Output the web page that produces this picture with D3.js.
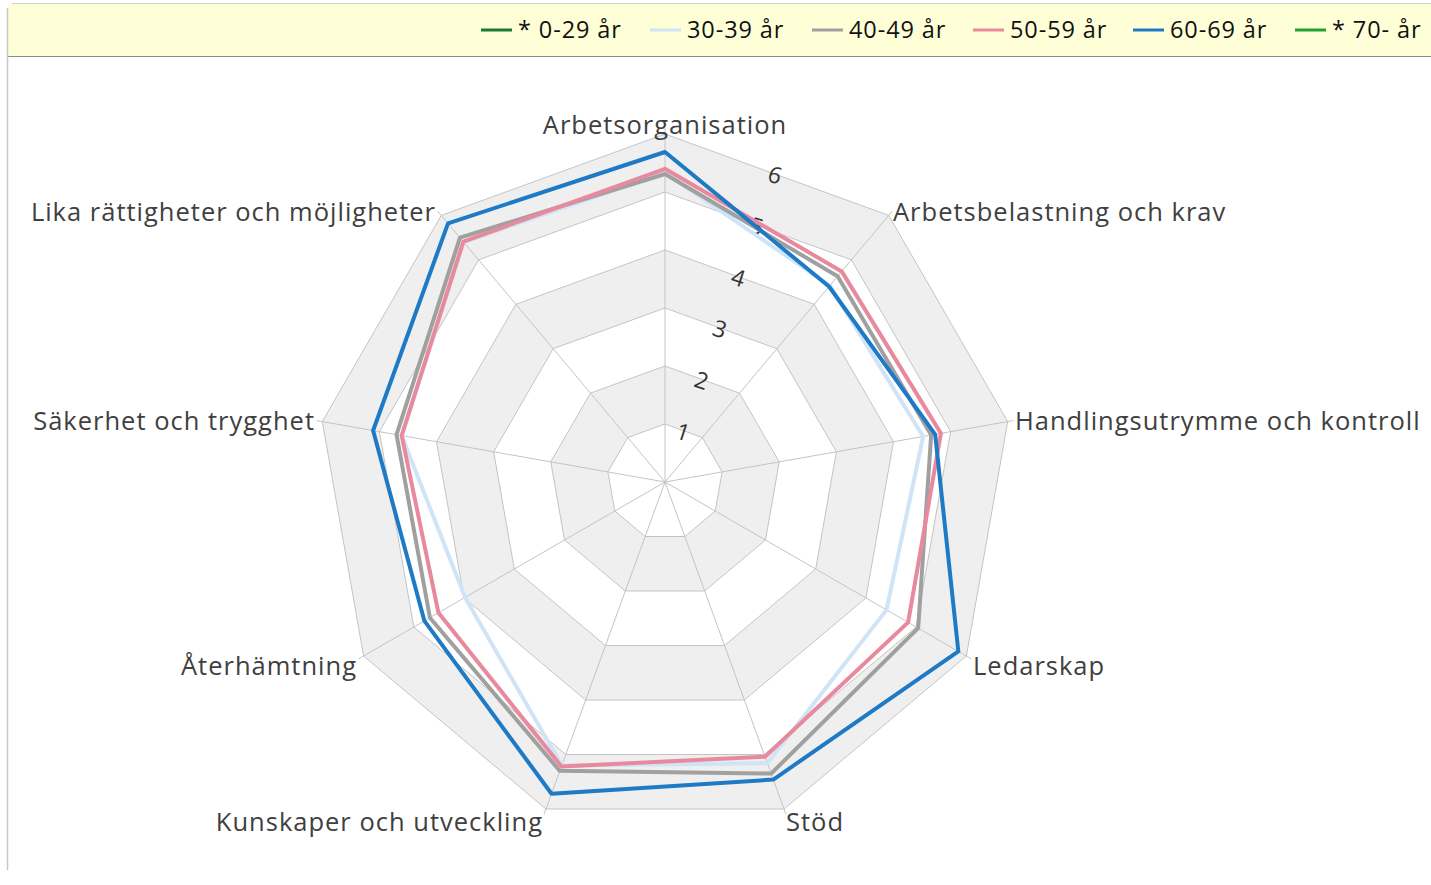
<!DOCTYPE html>
<html>
<head>
<meta charset="UTF-8">
<script src="https://d3js.org/d3.v7.min.js"></script>
<style>
  body { margin: 0; background: #ffffff; }
  text { font-family: "Open Sans", "Noto Sans", sans-serif; }
</style>
</head>
<body>
<svg id="chart" width="1431" height="885"></svg>
<script>
// axes, clockwise from the top
var axes = ["Arbetsorganisation", "Arbetsbelastning och krav", "Handlingsutrymme och kontroll",
  "Ledarskap", "Stöd", "Kunskaper och utveckling", "Återhämtning",
  "Säkerhet och trygghet", "Lika rättigheter och möjligheter"];
var seriesNames = ["* 0-29 år", "30-39 år", "40-49 år", "50-59 år", "60-69 år", "* 70- år"];
var seriesColors = ["#1b7a35", "#cfe4f6", "#a0a0a0", "#e8899e", "#1f7ac6", "#22a22c"];
// the two starred groups have no data shown
var v0_29 = null;
var v30_39 = [5.33, 4.42, 4.52, 4.41, 5.16, 5.20, 3.98, 4.61, 5.40];
var v40_49 = [5.31, 4.63, 4.66, 5.04, 5.35, 5.30, 4.68, 4.70, 5.50];
var v50_59 = [5.40, 4.74, 4.83, 4.84, 5.04, 5.22, 4.51, 4.61, 5.41];
var v60_69 = [5.69, 4.40, 4.73, 5.84, 5.46, 5.72, 4.79, 5.11, 5.82];
var v70 = null;
var seriesValues = [v0_29, v30_39, v40_49, v50_59, v60_69, v70];
var tickValues = [1, 2, 3, 4, 5, 6];

var cx = 665, cy = 482, R = 348;
var svg = d3.select("#chart");

var r = d3.scaleLinear().domain([0, 6]).range([0, R]);
var angle = d3.scaleLinear().domain([0, axes.length]).range([0, 2 * Math.PI]);

function pt(i, v) {
  var a = angle(i);
  return [cx + r(v) * Math.sin(a), cy - r(v) * Math.cos(a)];
}
function ring(v) {
  return axes.map(function(d, i) { return pt(i, v); });
}

// legend band
svg.append("path")
  .attr("d", "M7,57 L7,8 L12,3 L1431,3 L1431,57 Z")
  .attr("fill", "#ffffd7").attr("stroke", "none");
svg.append("line").attr("x1", 12).attr("x2", 1431).attr("y1", 3.5).attr("y2", 3.5)
  .attr("stroke", "#d0d0d0");
svg.append("line").attr("x1", 7).attr("x2", 1431).attr("y1", 56.5).attr("y2", 56.5)
  .attr("stroke", "#8a8a8a");
svg.append("line").attr("x1", 7.5).attr("x2", 7.5).attr("y1", 8).attr("y2", 870)
  .attr("stroke", "#c8c8c8").attr("stroke-width", 1.5);

// shaded bands
var bands = svg.append("g");
[[1, 2], [3, 4], [5, 6]].forEach(function(b) {
  var outer = ring(b[1]), inner = ring(b[0]).reverse();
  bands.append("path")
    .attr("d", "M" + outer.join("L") + "Z M" + inner.join("L") + "Z")
    .attr("fill", "#efefef").attr("fill-rule", "evenodd");
});

// grid rings
var grid = svg.append("g");
tickValues.forEach(function(t) {
  grid.append("polygon")
    .attr("points", ring(t).map(function(p) { return p.join(","); }).join(" "))
    .attr("fill", "none").attr("stroke", "#c4c4c4").attr("stroke-width", 1);
});
// spokes with a small tick beyond the outer ring
axes.forEach(function(d, i) {
  var p = pt(i, 6.1);
  grid.append("line")
    .attr("x1", cx).attr("y1", cy).attr("x2", p[0]).attr("y2", p[1])
    .attr("stroke", "#c4c4c4").attr("stroke-width", 1);
});

// tick labels along a slanted line (as in the original)
var tickG = svg.append("g");
tickValues.forEach(function(t) {
  var x = 683 + (t - 1) * 18.4, y = 432 - (t - 1) * 51.4;
  tickG.append("text")
    .attr("transform", "translate(" + x + "," + y + ") rotate(18)")
    .attr("text-anchor", "middle").attr("dy", "0.35em")
    .attr("font-size", 23).attr("fill", "#333")
    .text(t);
});

// series
var line = d3.line().curve(d3.curveLinearClosed);
[1, 2, 3, 4].forEach(function(k) {
  var vals = seriesValues[k];
  if (!vals) return;
  svg.append("path")
    .attr("d", line(vals.map(function(v, i) { return pt(i, v); })))
    .attr("fill", "none")
    .attr("stroke", seriesColors[k])
    .attr("stroke-width", 4)
    .attr("stroke-linejoin", "round");
});

// axis labels
var labelPos = [
  [665, 125, "middle"], [893, 212, "start"], [1015, 421, "start"],
  [973, 666, "start"], [786, 822, "start"], [543, 822, "end"],
  [357, 666, "end"], [315, 421, "end"], [436, 212, "end"]
];
svg.append("g").selectAll("text").data(axes).join("text")
  .attr("x", function(d, i) { return labelPos[i][0]; })
  .attr("y", function(d, i) { return labelPos[i][1]; })
  .attr("dy", "0.35em")
  .attr("text-anchor", function(d, i) { return labelPos[i][2]; })
  .attr("font-size", 25.5).attr("letter-spacing", "1px").attr("fill", "#404040")
  .text(function(d) { return d; });

// legend
var legendX = [481, 650, 812, 973, 1133, 1295];
var lg = svg.append("g").selectAll("g").data(seriesNames).join("g")
  .attr("transform", function(d, i) { return "translate(" + legendX[i] + ",30)"; });
lg.append("line").attr("x1", 0).attr("x2", 31).attr("y1", 0).attr("y2", 0)
  .attr("stroke", function(d, i) { return seriesColors[i]; }).attr("stroke-width", 3);
lg.append("text").attr("x", 37).attr("dy", "0.35em")
  .attr("font-size", 23.5).attr("letter-spacing", "0.9px").attr("fill", "#111")
  .text(function(d) { return d; });
</script>
</body>
</html>
